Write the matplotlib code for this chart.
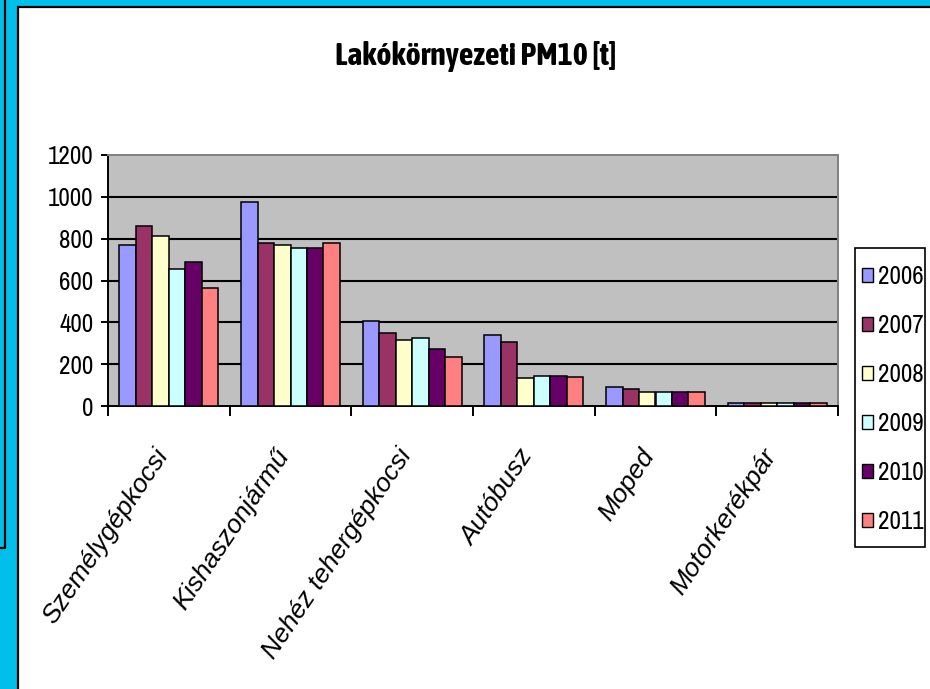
import numpy as np
import matplotlib
matplotlib.use("Agg")
import matplotlib.pyplot as plt
import matplotlib.patches as mpatches
from matplotlib.lines import Line2D
from matplotlib.font_manager import FontProperties

categories = ["Személygépkocsi", "Kishaszonjármű", "Nehéz tehergépkocsi",
              "Autóbusz", "Moped", "Motorkerékpár"]
years = ["2006", "2007", "2008", "2009", "2010", "2011"]
values = {
    "2006": [770, 975, 405, 340, 90, 12],
    "2007": [860, 780, 350, 305, 80, 12],
    "2008": [815, 768, 316, 134, 65, 12],
    "2009": [655, 757, 327, 145, 65, 12],
    "2010": [690, 757, 271, 145, 66, 12],
    "2011": [565, 779, 236, 137, 66, 12],
}
colors = ["#9999FF", "#993366", "#FFFFCC", "#CCFFFF", "#660066", "#FF8080"]

NARROW = ["Liberation Sans Narrow", "Archivo Narrow", "DejaVu Sans"]
NARROW_BOLD = ["Liberation Sans Narrow", "Asap Condensed", "DejaVu Sans"]
narrow = FontProperties(family=NARROW, size=18)
narrow_bold = FontProperties(family=NARROW_BOLD, weight="bold", size=23)

fig = plt.figure(figsize=(9.3, 6.89), dpi=100)
fig.patch.set_facecolor("#00BFEA")

# white panel with black left/top border
panel = mpatches.Rectangle((18 / 930, -0.05), 1.2, 1 - 7 / 689 + 0.05,
                           transform=fig.transFigure, facecolor="white",
                           edgecolor="black", linewidth=1.6, zorder=-10)
fig.patches.append(panel)
yl = 1 - 548 / 689
fig.lines.append(Line2D([5 / 930, 5 / 930, 0], [1.01, yl, yl],
                        transform=fig.transFigure, color="black",
                        linewidth=1.6, zorder=-10))

ax = fig.add_axes([108 / 930, 1 - 406 / 689, (838 - 108) / 930, (406 - 155) / 689])
ax.set_facecolor("#C0C0C0")

x = np.arange(len(categories))
bw = 0.1355
for i, (yr, c) in enumerate(zip(years, colors)):
    ax.bar(x + (i - 2.5) * bw, values[yr], width=bw, color=c,
           edgecolor="black", linewidth=1.1, zorder=3)

ax.set_xlim(-0.5, len(categories) - 0.5)
ax.set_ylim(0, 1200)
ax.set_yticks(range(0, 1201, 200))
ax.set_yticklabels([str(v) for v in range(0, 1201, 200)])
for t in ax.get_yticklabels():
    t.set_fontproperties(narrow)
for v in range(200, 1200, 200):
    ax.axhline(v, color="black", linewidth=1.5, zorder=1)

ax.set_xticks(np.arange(len(categories) + 1) - 0.5)
ax.set_xticklabels([])
ax.tick_params(axis="x", length=7, width=1.4, direction="out")
ax.tick_params(axis="y", length=5, width=1.4, direction="out", pad=5.5)
for xc, lab in zip(x, categories):
    ax.text(xc - 0.13, -185, lab, rotation=56, rotation_mode="anchor",
            ha="right", va="top", fontsize=19, style="italic",
            family=["Liberation Sans", "DejaVu Sans"],
            transform=ax.transData, clip_on=False)

ax.spines["left"].set_linewidth(1.4)
ax.spines["bottom"].set_linewidth(1.4)
ax.spines["top"].set_color("#808080")
ax.spines["right"].set_color("#808080")
ax.spines["top"].set_linewidth(1.4)
ax.spines["right"].set_linewidth(1.4)

fig.text(476 / 930, 1 - 57 / 689, "Lakókörnyezeti PM10 [t]", ha="center",
         va="center", fontproperties=narrow_bold)

# legend: frame drawn separately so the box can be taller than the entries
fig.patches.append(mpatches.Rectangle((855 / 930, 1 - 547 / 689), 70 / 930, 299 / 689,
                                      transform=fig.transFigure, facecolor="white",
                                      edgecolor="black", linewidth=1.2, zorder=-5))
handles = [mpatches.Patch(facecolor=c, edgecolor="black", linewidth=1.0, label=y)
           for y, c in zip(years, colors)]
leg = fig.legend(handles=handles, loc="upper left",
                 bbox_to_anchor=(862 / 930, 1 - 265 / 689),
                 prop=narrow, frameon=False,
                 handlelength=0.45, handleheight=0.45,
                 handletextpad=0.18, labelspacing=1.04, borderpad=0.0,
                 borderaxespad=0.0)

fig.savefig("out.png", dpi=100, facecolor=fig.get_facecolor())
